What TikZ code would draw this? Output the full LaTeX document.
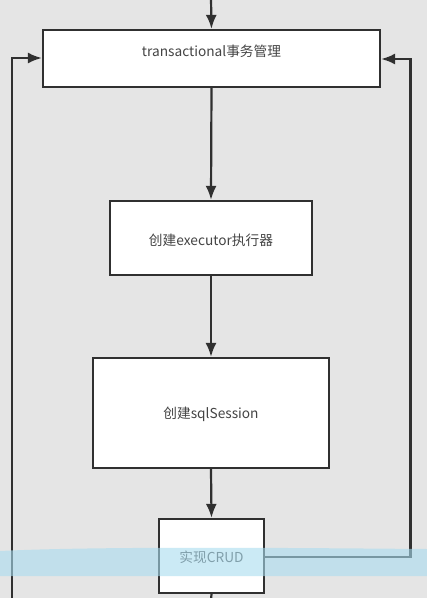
\documentclass[tikz,border=0pt]{standalone}
\usepackage{fontspec}
\newfontfamily\cjk{Noto Sans CJK SC}
\usetikzlibrary{arrows.meta}
\definecolor{bg}{HTML}{E5E5E5}
\definecolor{ink}{HTML}{303030}
\definecolor{txt}{HTML}{444444}
\definecolor{band}{HTML}{A9DCEF}
\begin{document}
\begin{tikzpicture}[x=1pt,y=-1pt,
  box/.style={draw=ink,line width=2.2pt,fill=white,inner sep=0pt},
  lab/.style={font=\cjk\fontsize{13.7}{15}\selectfont,text=txt},
  conn/.style={draw=ink,line width=2.2pt,-{Latex[length=14pt,width=11pt]}},
  plain/.style={draw=ink,line width=2.2pt}]
\fill[bg] (0,0) rectangle (427,598);
\useasboundingbox (0,0) rectangle (427,598);
% boxes
\node[box,minimum width=337pt,minimum height=57pt] (tx) at (211.5,58.5) {};
\node[lab] (txl) at (211.5,51) {transactional事务管理};
\node[box,minimum width=202pt,minimum height=74pt] (ex) at (211,238) {};
\node[lab] (exl) at (211,240) {创建executor执行器};
\node[box,minimum width=236pt,minimum height=110pt] (ss) at (211,413) {};
\node[lab] (ssl) at (211,414) {创建sqlSession};
\node[box,minimum width=105pt,minimum height=74pt] (cr) at (211.5,556) {};
\node[lab] (crl) at (211.5,557) {实现CRUD};
% coordinates
\coordinate (top) at (211,-2);
\coordinate (bot) at (211,600);
\coordinate (lb) at (12,600);
\coordinate (lt) at (12,58);
\coordinate (rb) at (410.5,557);
\coordinate (rt) at (410.5,59);
% connectors
\draw[conn] (top) -- (tx.north);
\draw[conn] (tx.south) -- (ex.north);
\draw[conn] (ex.south) -- (ss.north);
\draw[conn] (ss.south) -- (cr.north);
\draw[plain] (cr.south) -- (bot);
\draw[conn] (lb) -- (lt) -- (tx.west |- lt);
\draw[conn] (cr.east |- rb) -- (rb) -- (rt) -- (tx.east |- rt);
% translucent band overlay
\fill[band,opacity=0.6] (0,551) .. controls (100,546) and (300,548) .. (427,549) -- (427,576) -- (0,576) -- cycle;
\end{tikzpicture}
\end{document}
